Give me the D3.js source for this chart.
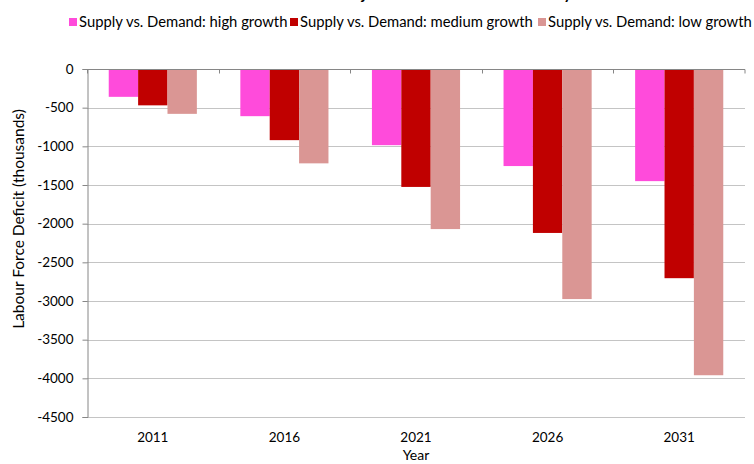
<!DOCTYPE html>
<html>
<head>
<meta charset="utf-8">
<script src="https://cdn.jsdelivr.net/npm/d3@7"></script>
<style>
  body { margin: 0; background: #fff; }
  text { font-family: Lato, "Liberation Sans", sans-serif; fill: #000; }
</style>
</head>
<body>
<div id="chart"></div>
<script>
// chart data
var years = ["2011", "2016", "2021", "2026", "2031"];
var seriesNames = ["Supply vs. Demand: high growth", "Supply vs. Demand: medium growth", "Supply vs. Demand: low growth"];
var highGrowth = [-360, -610, -985, -1255, -1450];
var mediumGrowth = [-470, -920, -1525, -2120, -2705];
var lowGrowth = [-580, -1220, -2070, -2975, -3960];
var yTicks = [0, -500, -1000, -1500, -2000, -2500, -3000, -3500, -4000, -4500];
var colors = ["#ff4bdb", "#c00000", "#da9694"];

var width = 754;
var height = 464;
var plotLeft = 87, plotRight = 745, plotTop = 69, plotBottom = 417;

var svg = d3.select("#chart")
  .append("svg")
  .attr("width", width)
  .attr("height", height);

var y = d3.scaleLinear()
  .domain([-4500, 0])
  .range([plotBottom, plotTop]);

var x = d3.scaleBand()
  .domain(years)
  .range([plotLeft, plotRight]);

var x1 = d3.scaleBand()
  .domain([0, 1, 2])
  .range([0, x.bandwidth()])
  .paddingInner(0)
  .paddingOuter(0.74);

// title, mostly cut off at the top edge
svg.append("text")
  .attr("x", 337)
  .attr("y", -1)
  .style("font-weight", "bold")
  .style("font-size", "15.8px")
  .text("Projected Labour Force Deficit by Year");

// gridlines
svg.append("g")
  .selectAll("line")
  .data(yTicks.filter(function(d) { return d !== 0; }))
  .enter()
  .append("line")
  .attr("x1", plotLeft)
  .attr("x2", plotRight)
  .attr("y1", function(d) { return Math.round(y(d)) + 0.5; })
  .attr("y2", function(d) { return Math.round(y(d)) + 0.5; })
  .attr("stroke", "#c4c4c4")
  .attr("stroke-width", 1);

// bars
var series = [highGrowth, mediumGrowth, lowGrowth];
var groups = svg.append("g")
  .selectAll("g")
  .data(years)
  .enter()
  .append("g")
  .attr("transform", function(d) { return "translate(" + x(d) + ",0)"; });

groups.selectAll("rect")
  .data(function(d, i) { return series.map(function(s, k) { return { k: k, v: s[i] }; }); })
  .enter()
  .append("rect")
  .attr("x", function(d) { return x1(d.k); })
  .attr("y", y(0))
  .attr("width", x1.bandwidth())
  .attr("height", function(d) { return y(d.v) - y(0); })
  .attr("fill", function(d) { return colors[d.k]; });

// y axis
var yAxis = d3.axisLeft(y)
  .tickValues(yTicks)
  .tickSize(5)
  .tickPadding(9)
  .tickFormat(d3.format("d"));

var yG = svg.append("g")
  .attr("transform", "translate(" + (plotLeft + 0.5) + ",0)")
  .call(yAxis);
yG.select(".domain").attr("stroke", "#868686");
yG.selectAll(".tick line").attr("stroke", "#868686");
yG.selectAll(".tick text")
  .style("font-size", "13.5px")
  .attr("fill", "#000")
  .text(function(d) { return d === 0 ? "0" : String(d); });

// zero line with band ticks
var xAxis = d3.axisBottom(x).tickSize(0).tickFormat("");
var xG = svg.append("g")
  .attr("transform", "translate(0," + (Math.round(y(0)) + 0.5) + ")")
  .call(xAxis);
xG.select(".domain").attr("stroke", "#868686").attr("d", "M" + plotLeft + ",0H" + plotRight);

xG.selectAll(".bandtick")
  .data(years.concat(["end"]))
  .enter()
  .append("line")
  .attr("class", "bandtick")
  .attr("x1", function(d) { return d === "end" ? plotRight : Math.round(x(d)) + 0.5; })
  .attr("x2", function(d) { return d === "end" ? plotRight : Math.round(x(d)) + 0.5; })
  .attr("y1", 0)
  .attr("y2", 4)
  .attr("stroke", "#868686");

// category labels at the bottom
svg.append("g")
  .selectAll("text")
  .data(years)
  .enter()
  .append("text")
  .attr("x", function(d) { return x(d) + x.bandwidth() / 2; })
  .attr("y", 442)
  .attr("text-anchor", "middle")
  .style("font-size", "13.5px")
  .text(function(d) { return d; });

// axis titles
svg.append("text")
  .attr("x", (plotLeft + plotRight) / 2)
  .attr("y", 460)
  .attr("text-anchor", "middle")
  .style("font-size", "14px")
  .text("Year");

svg.append("text")
  .attr("transform", "translate(24,219) rotate(-90)")
  .attr("text-anchor", "middle")
  .style("font-size", "15.5px")
  .text("Labour Force Deficit (thousands)");

// legend
var legendX = [69, 290, 538];
var legend = svg.append("g")
  .selectAll("g")
  .data(seriesNames)
  .enter()
  .append("g")
  .attr("transform", function(d, i) { return "translate(" + legendX[i] + ",18)"; });

legend.append("rect")
  .attr("width", 8)
  .attr("height", 8)
  .attr("fill", function(d, i) { return colors[i]; });

legend.append("text")
  .attr("x", 10)
  .attr("y", 9)
  .style("font-size", "14.8px")
  .text(function(d) { return d; });
</script>
</body>
</html>
